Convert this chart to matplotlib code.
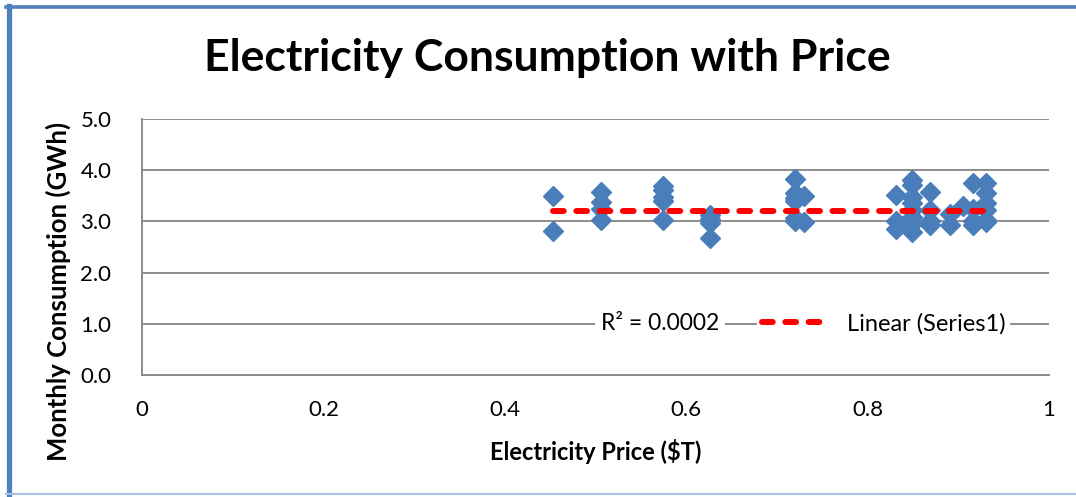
import matplotlib
matplotlib.use("Agg")
import matplotlib.pyplot as plt
from matplotlib.lines import Line2D

plt.rcParams['font.family'] = ['Lato', 'DejaVu Sans']

# Data
price = [0.453, 0.453,
         0.506, 0.506, 0.506, 0.506,
         0.574, 0.574, 0.574, 0.574, 0.574,
         0.626, 0.626, 0.626, 0.626,
         0.720, 0.720, 0.720, 0.720, 0.720, 0.720,
         0.730, 0.730,
         0.831, 0.831, 0.831,
         0.849, 0.849, 0.849, 0.849, 0.849, 0.849, 0.849, 0.849,
         0.869, 0.869, 0.869, 0.869,
         0.891, 0.891,
         0.905,
         0.916, 0.916, 0.916, 0.916,
         0.931, 0.931, 0.931, 0.931, 0.931, 0.931]
consumption = [3.50, 2.81,
               3.58, 3.38, 3.25, 3.03,
               3.70, 3.62, 3.48, 3.40, 3.03,
               3.12, 3.05, 2.97, 2.68,
               3.83, 3.55, 3.45, 3.40, 3.07, 3.00,
               3.50, 2.99,
               3.52, 3.00, 2.85,
               3.80, 3.72, 3.48, 3.35, 3.22, 3.09, 2.95, 2.80,
               3.57, 3.22, 3.00, 2.92,
               3.15, 2.93,
               3.30,
               3.75, 3.25, 3.00, 2.92,
               3.75, 3.55, 3.35, 3.22, 3.03, 2.98]
trend_x = [0.453, 0.932]
trend_y = [3.21, 3.21]
r2_label = "R² = 0.0002"
x_ticks = [0, 0.2, 0.4, 0.6, 0.8, 1]
x_tick_labels = ["0", "0.2", "0.4", "0.6", "0.8", "1"]
y_ticks = [0, 1, 2, 3, 4, 5]
y_tick_labels = ["0.0", "1.0", "2.0", "3.0", "4.0", "5.0"]

W, H = 1076, 497
fig = plt.figure(figsize=(W / 100, H / 100), dpi=100)
ax = fig.add_axes([142 / W, 1 - 375 / H, (1049 - 142) / W, (375 - 119) / H])

grid_color = '#8c8c8c'
ax.set_xlim(0, 1)
ax.set_ylim(0, 5)
ax.set_xticks(x_ticks)
ax.set_xticklabels(x_tick_labels)
ax.set_yticks(y_ticks)
ax.set_yticklabels(y_tick_labels)
ax.tick_params(axis='both', length=0, labelsize=16, pad=18)
ax.tick_params(axis='y', pad=22)
ax.grid(axis='y', color=grid_color, linewidth=1.4)
ax.set_axisbelow(True)
for s in ['top', 'right']:
    ax.spines[s].set_visible(False)
for s in ['left', 'bottom']:
    ax.spines[s].set_color(grid_color)
    ax.spines[s].set_linewidth(1.4)

ax.plot(price, consumption, linestyle='none', marker='D', markersize=10.5,
        color='#4a7ebb', markeredgecolor='#4a7ebb', zorder=3, label='Series1')
trend, = ax.plot(trend_x, trend_y, color='#ff0000', linewidth=4.3,
                 dashes=(1.8, 2.1), dash_capstyle='round', zorder=4,
                 label='Linear (Series1)')

ax.text(0.571, 1.0, r2_label, fontsize=16.5, ha='center', va='center',
        bbox=dict(facecolor='white', edgecolor='none', pad=4), zorder=5)
leg = ax.legend(handles=[trend], loc='center', bbox_to_anchor=(0.818, 0.2),
                frameon=True, facecolor='white', edgecolor='none',
                fontsize=17, handlelength=2.8, handletextpad=0.8, borderpad=0.2,
                framealpha=1, fancybox=False)

ax.set_xlabel("Electricity Price ($T)", fontsize=17, fontweight='bold', labelpad=14)
ax.set_ylabel("Monthly Consumption (GWh)", fontsize=18.5, fontweight='bold')
ax.yaxis.label.set_va('center')
ax.yaxis.set_label_coords((58 - 142) / 907, (375 - 291) / 256)
fig.text(547 / W, 1 - 58 / H, "Electricity Consumption with Price",
         fontsize=32, fontweight='bold', ha='center', va='center')

# frame
fig.add_artist(Line2D([8.5 / W, 8.5 / W], [0, 1 - 6 / H], transform=fig.transFigure,
                      color='#4f81bd', linewidth=3.8))
fig.add_artist(Line2D([6 / W, 1], [1 - 6.5 / H, 1 - 6.5 / H], transform=fig.transFigure,
                      color='#4f81bd', linewidth=2.6))
fig.add_artist(Line2D([6 / W, 1], [1 - 494 / H, 1 - 494 / H], transform=fig.transFigure,
                      color='#a6c1e3', linewidth=1.5))

fig.savefig('out.png', dpi=100)
